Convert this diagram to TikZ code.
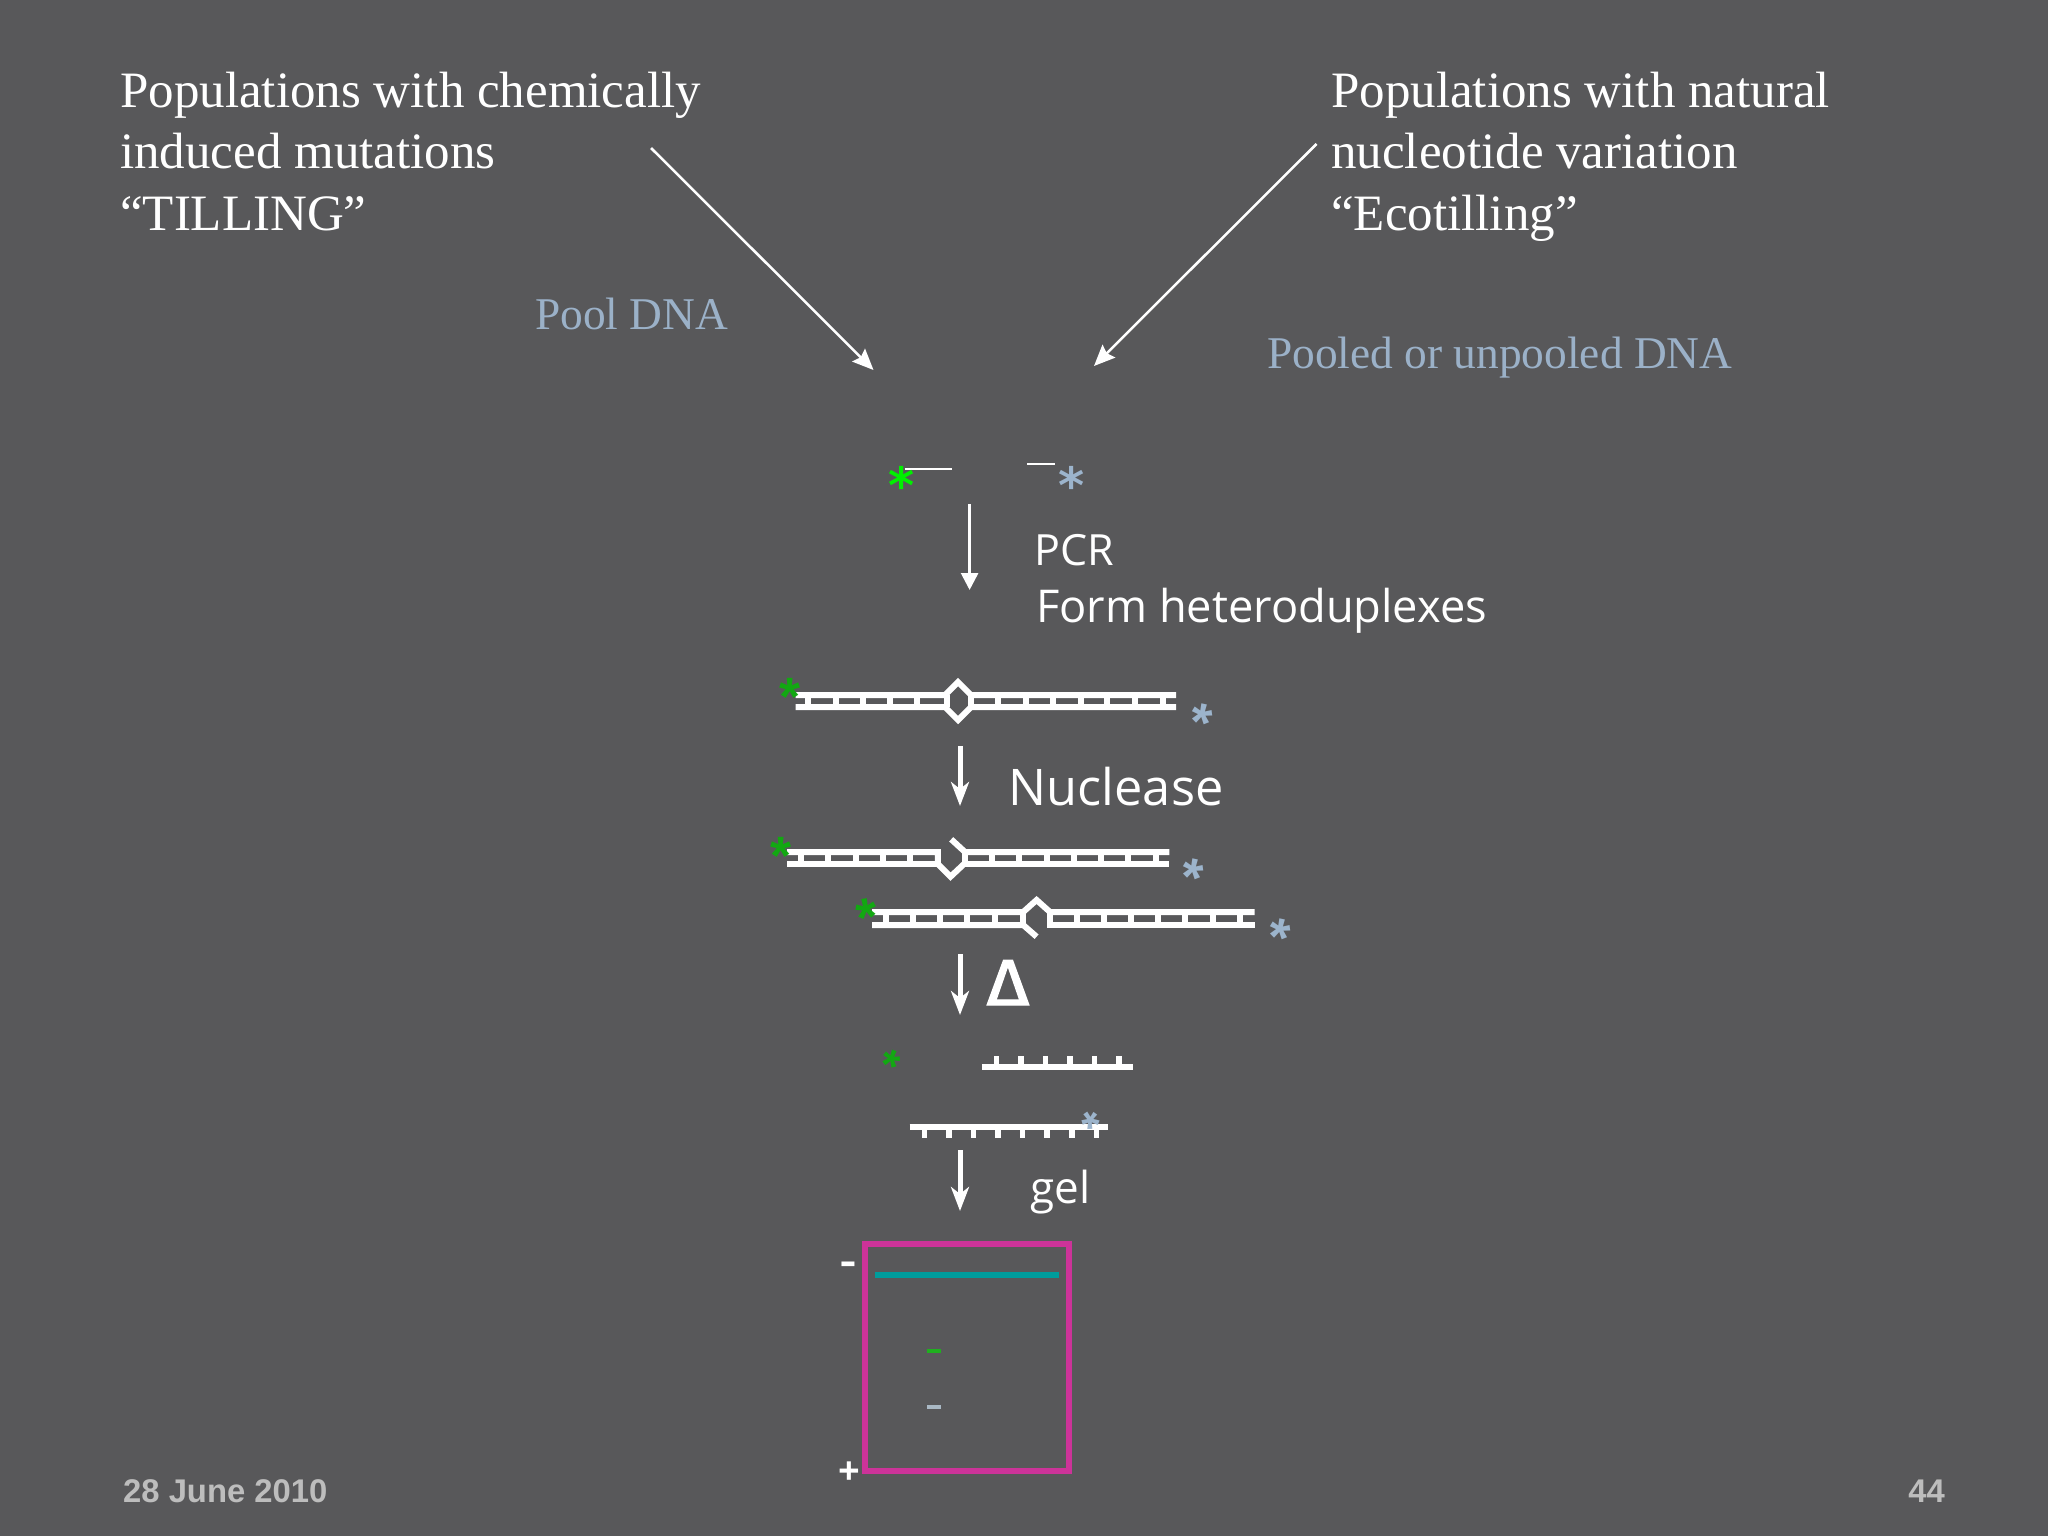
\documentclass[tikz,border=0pt]{standalone}
\usepackage{fontspec}
\setmainfont{Liberation Serif}
\newfontfamily\labelfont{Open Sans}
\newfontfamily\footfont{Liberation Sans}
\newfontfamily\sixfont{DejaVu Sans}
\newfontfamily\heatfont{Fira Sans}[FakeBold=2]
\usetikzlibrary{arrows.meta}

% Colours
\definecolor{slide_bg}{HTML}{58585A}
\definecolor{pool_blue}{HTML}{9BB1C8}
\definecolor{star_lime}{HTML}{00F000}
\definecolor{star_green}{HTML}{12A812}
\definecolor{star_blue}{HTML}{9CB4CC}
\definecolor{gel_pink}{HTML}{CC3399}
\definecolor{gel_teal}{HTML}{009C9C}
\definecolor{band_grey}{HTML}{A9B8C4}
\definecolor{band_green}{HTML}{1FB01F}
\definecolor{foot_grey}{HTML}{BDBDBD}

% A zero sized asterisk, centred on its node
\newcommand{\starmark}[1]{\makebox[0pt]{\raisebox{#1}[0pt][0pt]{*}}}

% Sizes are in pt, one pt is one pixel of the reference
\tikzset{
    heading/.style={anchor=north west, align=left, white, inner sep=0pt, font=\fontsize{51}{61.4}\selectfont},
    poollabel/.style={anchor=base west, pool_blue, inner sep=0pt, font=\fontsize{45.4}{53}\selectfont},
    steplabel/.style={anchor=base west, white, inner sep=0pt, font=\labelfont\fontsize{45.2}{55}\selectfont},
    footlabel/.style={foot_grey, inner sep=0pt, font=\footfont\bfseries\fontsize{32.8}{38}\selectfont},
    polelabel/.style={anchor=base, white, inner sep=0pt, font=\labelfont\bfseries\fontsize{38}{46}\selectfont},
    strand/.style={white, line width=6pt},
    rung/.style={white, line width=6pt},
    tick/.style={white, line width=5.5pt},
    primer/.style={white, line width=2.4pt},
    feed/.style={-{Stealth[length=21pt, width=18pt, inset=3pt]}, white, line width=2.5pt},
    pcrarrow/.style={-{Stealth[length=17pt, width=17pt, inset=0pt]}, white, line width=2.7pt},
    process/.style={-{Stealth[length=24pt, width=18pt, inset=7pt]}, white, line width=5pt},
    fivestar/.style={inner sep=0pt, font=\footfont\bfseries\fontsize{54}{60}\selectfont},
    smallstar/.style={inner sep=0pt, font=\footfont\bfseries\fontsize{46}{50}\selectfont},
    sixstar/.style={inner sep=0pt, font=\sixfont\bfseries\fontsize{50}{55}\selectfont},
}

\begin{document}
\begin{tikzpicture}[x=1pt, y=-1pt]

    % Background
    \fill[slide_bg] (0,0) rectangle (2048,1536);
    \useasboundingbox (0,0) rectangle (2048,1536);

    % Headings
    \node[heading] (tilling) at (120,72) {Populations with chemically\\induced mutations\\“TILLING”};
    \node[heading] (ecotilling) at (1331,72) {Populations with natural\\nucleotide variation\\“Ecotilling”};
    \node[poollabel] (pooldna) at (535,329) {Pool DNA};
    \node[poollabel] (pooledna) at (1267,368) {Pooled or unpooled DNA};

    % Funnel arrows
    \coordinate (tillstart) at (651,148);
    \coordinate (tillend) at (873.5,370);
    \coordinate (ecostart) at (1316.5,144);
    \coordinate (ecoend) at (1094,366);
    \draw[feed] (tillstart) -- (tillend);
    \draw[feed] (ecostart) -- (ecoend);

    % Primers
    \coordinate (primerAa) at (904.5,469);
    \coordinate (primerAb) at (952.4,469);
    \coordinate (primerBa) at (1027,464);
    \coordinate (primerBb) at (1054.5,464);
    \draw[primer] (primerAa) -- (primerAb);
    \draw[primer] (primerBa) -- (primerBb);
    \node[sixstar, star_lime] (starA) at (901.5,477) {\starmark{-26pt}};
    \node[sixstar, star_blue] (starB) at (1071.8,477) {\starmark{-26pt}};

    % PCR step
    \coordinate (pcrtop) at (969.6,504);
    \coordinate (pcrend) at (969.6,590);
    \draw[pcrarrow] (pcrtop) -- (pcrend);
    \node[steplabel, font=\labelfont\fontsize{43}{55}\selectfont] (pcr) at (1034.5,565) {PCR};
    \node[steplabel] (form) at (1036,622) {Form heteroduplexes};

    % Heteroduplex
    \draw[strand] (795.5,695) -- (945,695) -- (958,682) -- (971,695) -- (1176,695);
    \draw[strand] (795.5,707) -- (945,707) -- (958,720) -- (971,707) -- (1176,707);
    \foreach \x in {808,835.7,862.8,890,917.2,946.6,970.7,998.3,1025.8,1053,1080.6,1107.3,1135,1162.5}
        \draw[rung] (\x,695) -- (\x,707);
    \node[fivestar, star_green] (starC) at (789.7,689) {\starmark{-26pt}};
    \node[fivestar, star_blue, rotate=-12] (starD) at (1202,715) {\starmark{-26pt}};

    % Nuclease step
    \coordinate (nucleasetop) at (960,746);
    \coordinate (nucleaseend) at (960,806);
    \draw[process] (nucleasetop) -- (nucleaseend);
    \node[steplabel, font=\labelfont\fontsize{50.5}{60}\selectfont] (nuclease) at (1008.5,805) {Nuclease};

    % Cut strand, first
    \draw[strand] (787,852) -- (937.8,852) -- (937.8,864) -- (950.5,876.7) -- (964,864);
    \draw[strand] (787,864) -- (937.8,864);
    \draw[strand] (951.2,839.3) -- (965,852) -- (1169.4,852);
    \draw[strand] (964.6,852) -- (964.6,864) -- (1169.4,864);
    \foreach \x in {801.2,828.4,856,883,910.3,992,1019.3,1046.5,1074,1101.2,1128.4,1156}
        \draw[rung] (\x,852) -- (\x,864);
    \node[fivestar, star_green] (starE) at (781.3,848.3) {\starmark{-26pt}};
    \node[fivestar, star_blue, rotate=-12] (starF) at (1193.4,870) {\starmark{-26pt}};

    % Cut strand, second
    \draw[strand] (872,912) -- (1023.2,912) -- (1036.6,900) -- (1050,912) -- (1254.7,912);
    \draw[strand] (872,925) -- (1023.2,925) -- (1036.6,936.7);
    \draw[strand] (1050,912) -- (1050,925) -- (1254.7,925);
    \draw[rung] (1023.2,912) -- (1023.2,925);
    \foreach \x in {885.8,913,940,967.3,994.5,1076.7,1103.5,1130.7,1158.2,1185.4,1212.6,1239.7}
        \draw[rung] (\x,912) -- (\x,925);
    \node[fivestar, star_green, rotate=10] (starG) at (866.3,910) {\starmark{-26pt}};
    \node[fivestar, star_blue, rotate=-12] (starH) at (1280.3,930) {\starmark{-26pt}};

    % Heat step
    \coordinate (heattop) at (960,954);
    \coordinate (heatend) at (960,1015);
    \draw[process] (heattop) -- (heatend);
    \node[anchor=base, white, inner sep=0pt, xscale=1.12, font=\heatfont\fontsize{65}{72}\selectfont] (heat) at (1008,1005) {Δ};

    % Fragments
    \node[smallstar, star_green, rotate=-20] (starJ) at (891,1060) {\starmark{-22pt}};
    \draw[strand] (981.8,1067) -- (1133.4,1067);
    \foreach \x in {996.4,1020.9,1045.4,1069.9,1094.3,1118.8}
        \draw[tick] (\x,1056) -- (\x,1067);
    \draw[strand] (909.5,1127) -- (1108,1127);
    \foreach \x in {924.4,949,973.4,998,1022.4,1047,1071.8,1096.3}
        \draw[tick] (\x,1127) -- (\x,1138);
    \node[smallstar, star_blue, rotate=35] (starK) at (1091,1121) {\starmark{-22pt}};

    % Gel step
    \coordinate (geltop) at (960,1150);
    \coordinate (gelend) at (960,1211);
    \draw[process] (geltop) -- (gelend);
    \node[steplabel, font=\labelfont\fontsize{44}{52}\selectfont] (gel) at (1030.5,1203) {gel};

    % Gel
    \draw[gel_pink, line width=5.5pt] (865,1244) rectangle (1069,1471);
    \draw[gel_teal, line width=5.5pt] (875,1275) -- (1059,1275);
    \draw[band_green, line width=3.5pt] (927,1351) -- (941,1351);
    \draw[band_grey, line width=3.5pt] (927,1407) -- (941,1407);
    \node[polelabel, xscale=1.3] (minus) at (848,1274) {-};
    \node[polelabel] (plus) at (849,1484) {+};

    % Footer
    \node[footlabel, anchor=base west] (date) at (123,1502) {28 June 2010};
    \node[footlabel, anchor=base east] (page) at (1945,1502) {44};

\end{tikzpicture}
\end{document}
